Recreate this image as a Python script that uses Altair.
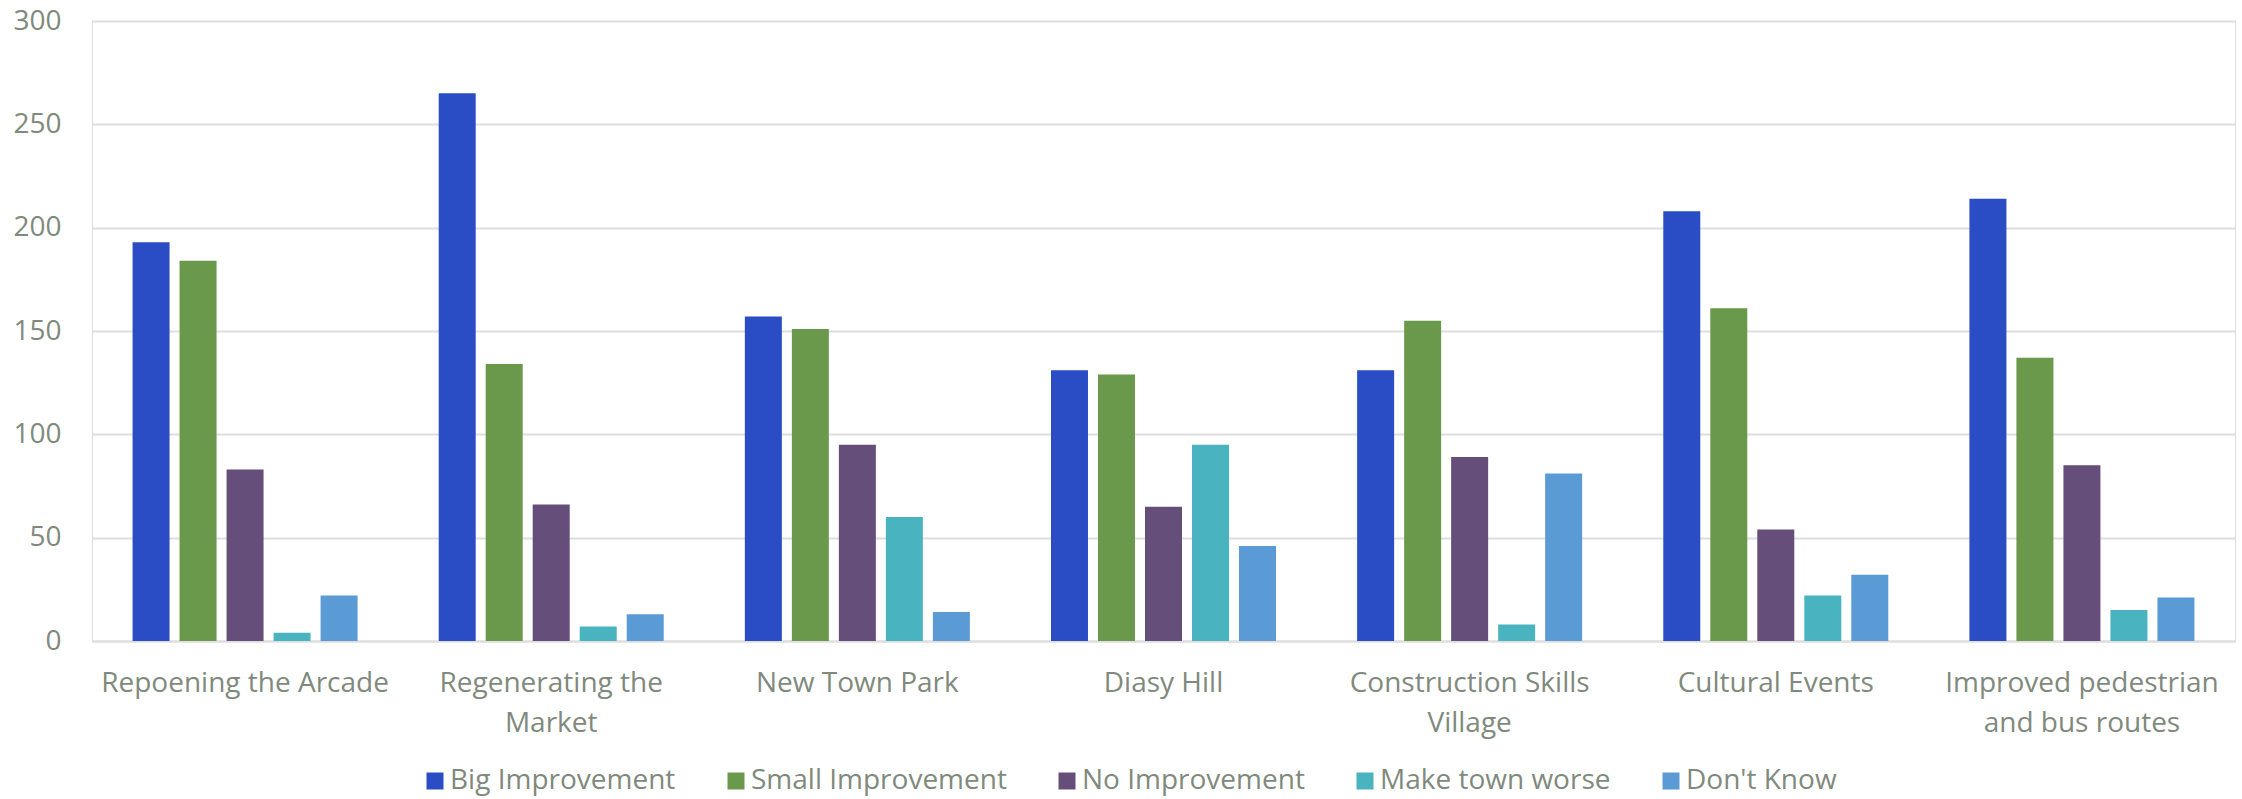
import altair as alt
import pandas as pd

categories = [
    "Repoening the Arcade",
    "Regenerating the|Market",
    "New Town Park",
    "Diasy Hill",
    "Construction Skills|Village",
    "Cultural Events",
    "Improved pedestrian|and bus routes",
]
series = ["Big Improvement", "Small Improvement", "No Improvement", "Make town worse", "Don't Know"]
colors = ["#2A4DC6", "#6A994B", "#654E79", "#4AB3C0", "#5B9BD5"]

big_improvement = [193, 265, 157, 131, 131, 208, 214]
small_improvement = [184, 134, 151, 129, 155, 161, 137]
no_improvement = [83, 66, 95, 65, 89, 54, 85]
make_town_worse = [4, 7, 60, 95, 8, 22, 15]
dont_know = [22, 13, 14, 46, 81, 32, 21]

y_ticks = [0, 50, 100, 150, 200, 250, 300]

values = [big_improvement, small_improvement, no_improvement, make_town_worse, dont_know]
rows = []
for s, vals in zip(series, values):
    for c, v in zip(categories, vals):
        rows.append({"category": c, "series": s, "value": v})
df = pd.DataFrame(rows)

TEXT = "#7F8A7D"
GRID = "#DEDEDE"
FONT = "Open Sans"

chart = alt.Chart(df).mark_bar().encode(
    x=alt.X(
        "category:N",
        sort=categories,
        scale=alt.Scale(paddingInner=0.265, paddingOuter=0.1325),
        axis=alt.Axis(
            title=None,
            labelAngle=0,
            labelExpr="split(datum.label, '|')",
            labelFont=FONT,
            labelFontSize=28,
            labelColor=TEXT,
            labelLineHeight=40,
            labelPadding=28,
            ticks=False,
            domainColor=GRID,
            domainWidth=2,
            labelLimit=400,
        ),
    ),
    xOffset=alt.XOffset(
        "series:N",
        sort=series,
        scale=alt.Scale(paddingInner=0.213, paddingOuter=0),
    ),
    y=alt.Y(
        "value:Q",
        scale=alt.Scale(domain=[0, 300], nice=False),
        axis=alt.Axis(
            title=None,
            values=y_ticks,
            grid=True,
            gridColor=GRID,
            gridWidth=2,
            domain=False,
            ticks=False,
            labelFont=FONT,
            labelFontSize=28,
            labelColor=TEXT,
            labelPadding=31,
        ),
    ),
    color=alt.Color(
        "series:N",
        sort=series,
        scale=alt.Scale(domain=series, range=colors),
        legend=alt.Legend(
            title=None,
            orient="none",
            direction="horizontal",
            legendX=329,
            legendY=746,
            columns=5,
            columnPadding=46,
            symbolType="square",
            symbolSize=289,
            symbolStrokeWidth=0,
            symbolOpacity=1,
            labelOffset=1,
            labelFont=FONT,
            labelFontSize=28,
            labelColor=TEXT,
            labelLimit=400,
        ),
    ),
).properties(
    width=2143,
    height=620,
    padding={"left": 92, "top": 21, "right": 7, "bottom": 158},
    autosize=alt.AutoSizeParams(type="none"),
).configure_view(
    stroke=None
).configure(background="white")

chart.save("out.html", embed_options={"renderer": "svg", "actions": False})
